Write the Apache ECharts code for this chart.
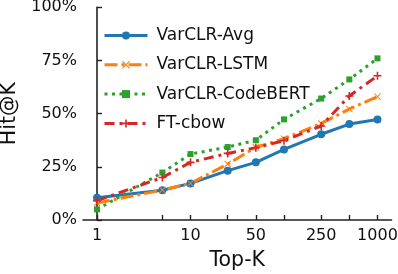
<!DOCTYPE html>
<html>
<head>
<meta charset="utf-8">
<script src="https://cdn.jsdelivr.net/npm/echarts@6/dist/echarts.min.js"></script>
<style>
html,body{margin:0;padding:0;background:#fff;}
#c{width:398px;height:274px;}
</style>
</head>
<body>
<div id="c"></div>
<script>
const topK = [1, 5, 10, 25, 50, 100, 250, 500, 1000];
const labelK = [1, 10, 50, 250, 1000];
const yTicks = [0, 25, 50, 75, 100];
const seriesNames = ['VarCLR-Avg', 'VarCLR-LSTM', 'VarCLR-CodeBERT', 'FT-cbow'];
const avg = [10.5, 14.0, 17.2, 23.2, 27.1, 33.2, 40.3, 45.1, 47.2];
const lstm = [8.0, 14.1, 17.2, 26.3, 34.2, 38.2, 45.4, 52.2, 58.0];
const codebert = [5.0, 22.3, 31.0, 34.3, 37.5, 47.3, 57.1, 66.1, 76.0];
const ftcbow = [9.1, 20.0, 27.1, 31.3, 34.0, 37.3, 44.2, 58.3, 67.8];

const FONT = 'DejaVu Sans';
const xSym = 'path://M1,0 L5,4 L9,0 L10,1 L6,5 L10,9 L9,10 L5,6 L1,10 L0,9 L4,5 L0,1 Z';
const plusSym = 'path://M4,0 L6,0 L6,4 L10,4 L10,6 L6,6 L6,10 L4,10 L4,6 L0,6 L0,4 L4,4 Z';

function pts(vals) { return topK.map((k, i) => [Math.log10(k), vals[i]]); }

const defs = [
  {name: seriesNames[0], data: avg, color: '#1f77b4', type: 'solid', symbol: 'circle', size: 8},
  {name: seriesNames[1], data: lstm, color: '#ff7f0e', type: [13, 4, 3, 4], symbol: xSym, size: 7},
  {name: seriesNames[2], data: codebert, color: '#2ca02c', type: [3, 4.5], symbol: 'rect', size: 6},
  {name: seriesNames[3], data: ftcbow, color: '#d62728', type: [10, 5, 3, 5], symbol: plusSym, size: 8}
];

const chart = echarts.init(document.getElementById('c'), null, {renderer: 'canvas'});
chart.setOption({
  animation: false,
  backgroundColor: '#fff',
  grid: {left: 83, right: 6.5, top: 7.3, bottom: 54, containLabel: false, outerBoundsMode: 'none'},
  legend: {
    orient: 'vertical',
    left: 98, top: 22,
    itemWidth: 43, itemHeight: 10, itemGap: 12.3,
    lineStyle: {width: 3},
    textStyle: {fontFamily: FONT, fontSize: 17, color: '#111', lineHeight: 17, padding: [0, 0, 0, 4]},
    data: seriesNames
  },
  xAxis: {
    type: 'value', min: -0.15, max: 3.15,
    name: 'Top-K', nameLocation: 'middle', nameGap: 30,
    nameTextStyle: {fontFamily: FONT, fontSize: 20.5, color: '#111'},
    axisLine: {show: true, lineStyle: {color: '#222', width: 1.6}},
    axisTick: {show: true, inside: true, length: 5, lineStyle: {color: '#222', width: 1.4},
      customValues: topK.map(k => Math.log10(k))},
    axisLabel: {fontFamily: FONT, fontSize: 16, color: '#111', margin: 8,
      customValues: labelK.map(k => Math.log10(k)),
      formatter: v => String(Math.round(Math.pow(10, v)))},
    splitLine: {show: false}
  },
  yAxis: {
    type: 'value', min: 0, max: 100, interval: 25,
    name: 'Hit@K', nameLocation: 'middle', nameGap: 60, nameRotate: 90,
    nameTextStyle: {fontFamily: FONT, fontSize: 20.5, color: '#111'},
    axisLine: {show: true, lineStyle: {color: '#222', width: 1.6}},
    axisTick: {show: true, inside: true, length: 5, lineStyle: {color: '#222', width: 1.4}},
    axisLabel: {fontFamily: FONT, fontSize: 16, color: '#111', margin: 6,
      formatter: v => v + '%'},
    splitLine: {show: false}
  },
  series: defs.map(d => ({
    name: d.name, type: 'line', data: pts(d.data),
    symbol: d.symbol, symbolSize: d.size, showSymbol: true,
    lineStyle: {color: d.color, width: 3, type: d.type},
    itemStyle: {color: d.color, borderWidth: 0},
    emphasis: {disabled: true}
  }))
});
</script>
</body>
</html>
